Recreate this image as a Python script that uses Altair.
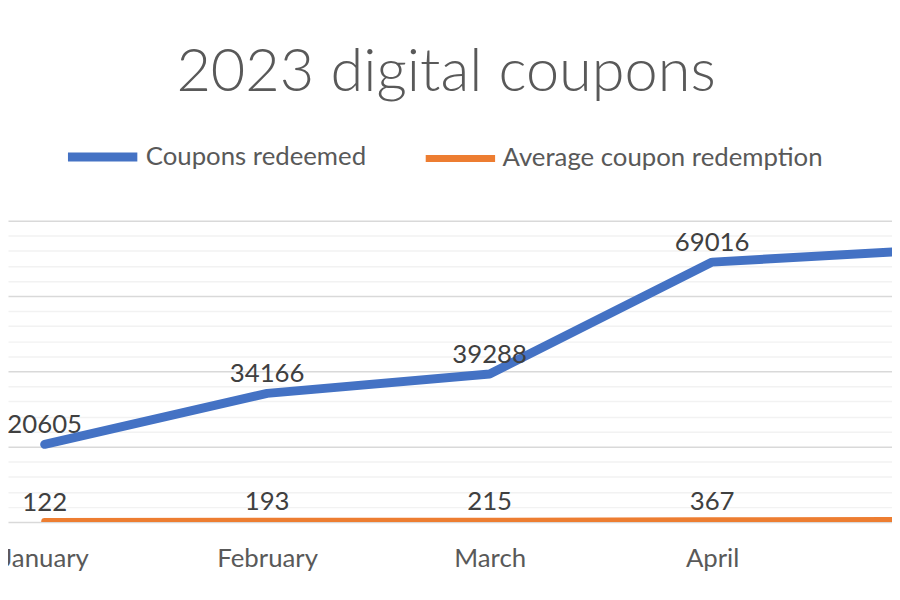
import altair as alt
import pandas as pd

months = ["January", "February", "March", "April", "May"]
coupons_redeemed = [20605, 34166, 39288, 69016, 72300]
avg_redemption = [122, 193, 215, 367, 380]
series_names = ["Coupons redeemed", "Average coupon redemption"]
series_colors = ["#4472C4", "#ED7D31"]
series_widths = [9, 7]
major_ticks = [0, 20000, 40000, 60000, 80000]
minor_ticks = [v for v in range(4000, 80000, 4000) if v % 20000 != 0]

rows = []
for i, (m, a, b) in enumerate(zip(months, coupons_redeemed, avg_redemption)):
    rows.append({"idx": i, "month": m, "series": series_names[0], "value": a})
    rows.append({"idx": i, "month": m, "series": series_names[1], "value": b})
df = pd.DataFrame(rows)

FONT = "Lato"
TEXT = "#595959"
W = 892
STEP = 224.5
X0 = 37

month_expr = "[" + ",".join("'%s'" % m for m in months) + "][datum.value]"

x_axis = alt.Axis(
    title=None, domain=False, ticks=False, grid=False,
    values=list(range(len(months))), labelExpr=month_expr, labelAngle=0,
    labelFont=FONT, labelFontSize=26, labelColor=TEXT,
    labelPadding=37, labelBaseline="middle", labelBound=False,
    labelOverlap=False, labelFlush=False, labelAlign="center",
)
x_enc = alt.X(
    "idx:Q", axis=x_axis,
    scale=alt.Scale(domain=[-X0 / STEP, (W - X0) / STEP], nice=False, zero=False),
)
y_scale = alt.Scale(domain=[0, 80000], nice=False, zero=True)

lines = alt.Chart(df).mark_line(clip=True, strokeCap="round", strokeJoin="round").encode(
    x=x_enc,
    y=alt.Y("value:Q", scale=y_scale, axis=alt.Axis(
        values=minor_ticks, labels=False, ticks=False, domain=False, title=None,
        grid=True, gridColor="#F2F2F2", gridWidth=1.5, orient="left")),
    color=alt.Color("series:N", sort=series_names,
                    scale=alt.Scale(domain=series_names, range=series_colors),
                    legend=alt.Legend(
                        title=None, orient="none", direction="horizontal",
                        legendX=56, legendY=-104,
                        symbolType="stroke", symbolSize=4900, symbolStrokeWidth=9,
                        labelFont=FONT, labelFontSize=26, labelColor=TEXT,
                        labelOffset=4, columnPadding=45, labelLimit=600,
                        symbolOpacity=1)),
    strokeWidth=alt.StrokeWidth("series:N", scale=alt.Scale(domain=series_names, range=series_widths), legend=None),
    order=alt.Order("idx:Q"),
)

labels = alt.Chart(df).mark_text(
    clip=True, font=FONT, fontSize=26, color="#404040", baseline="middle", dy=-19
).encode(
    x=x_enc,
    y=alt.Y("value:Q", scale=y_scale, axis=alt.Axis(
        values=major_ticks, labels=False, ticks=False, domain=False, title=None,
        grid=True, gridColor="#D9D9D9", gridWidth=1.5, orient="right")),
    text=alt.Text("value:Q", format="d"),
)

chart = alt.layer(lines, labels).resolve_axis(y="independent").properties(
    width=W, height=304,
    padding={"left": 0, "top": 212, "right": 0, "bottom": 68},
    autosize=alt.AutoSizeParams(type="none"),
    view=alt.ViewBackground(stroke="transparent", strokeWidth=0, strokeOpacity=0),
    title=alt.TitleParams(
        "2023 digital coupons", font=FONT, fontSize=60, fontWeight=300,
        color=TEXT, anchor="middle", dx=-4, dy=33, offset=0, baseline="alphabetic"),
).configure_view(
    stroke="transparent", strokeWidth=0, strokeOpacity=0
).configure_axis(
    domain=False, ticks=False, domainOpacity=0
).configure(background="white")

chart.save("out.html", embed_options={"renderer": "svg", "actions": False})
